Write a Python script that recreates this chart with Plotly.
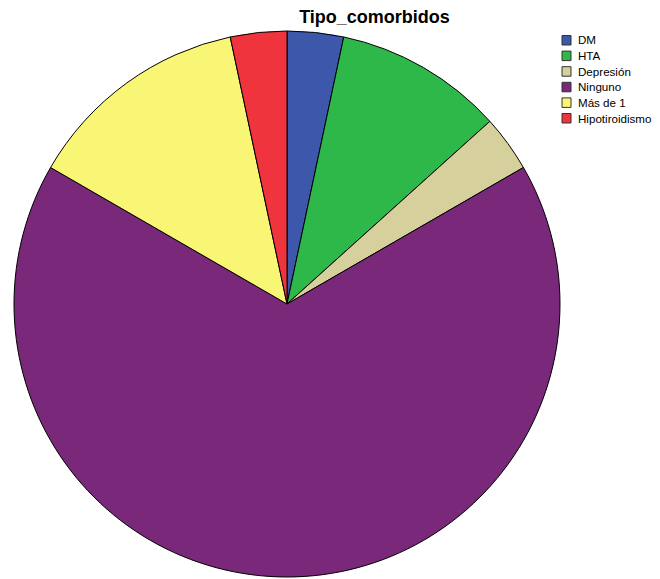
import plotly.graph_objects as go

categories = ["DM", "HTA", "Depresión", "Ninguno", "Más de 1", "Hipotiroidismo"]
values = [1, 3, 1, 20, 4, 1]
colors = ["#3d58aa", "#2fb84a", "#d5d09c", "#7a287a", "#faf675", "#f0343d"]

W, H = 660, 579
cx, cy, r = 287, 304, 273

fig = go.Figure(go.Pie(
    labels=categories, values=values, sort=False, direction="clockwise", rotation=0,
    marker=dict(colors=colors, line=dict(color="black", width=1)),
    textinfo="none", hoverinfo="label+value+percent",
    domain=dict(x=[(cx - r) / W, (cx + r) / W], y=[1 - (cy + r) / H, 1 - (cy - r) / H]),
    showlegend=False,
))

# manual legend
leg_x, leg_y0, leg_dy = 562, 40, 15.6
shapes, annotations = [], []
for i, (lab, col) in enumerate(zip(categories, colors)):
    yc = leg_y0 + i * leg_dy
    shapes.append(dict(type="rect", xref="paper", yref="paper",
                       x0=leg_x / W, x1=(leg_x + 9) / W,
                       y0=1 - (yc + 5) / H, y1=1 - (yc - 4.5) / H,
                       fillcolor=col, line=dict(color="#333333", width=1)))
    annotations.append(dict(text=lab, xref="paper", yref="paper", x=(leg_x + 14) / W, y=1 - yc / H,
                            xanchor="left", yanchor="middle", showarrow=False,
                            font=dict(family="Liberation Sans, Arial", size=11.6, color="black")))

fig.update_layout(
    width=W, height=H, margin=dict(l=0, r=0, t=0, b=0, autoexpand=False),
    paper_bgcolor="white", plot_bgcolor="white",
    title=dict(text="<b>Tipo_comorbidos</b>", x=374.5 / W, xanchor="center", y=1 - 17 / H, yanchor="middle",
               font=dict(family="Liberation Sans, Arial", size=18, color="black")),
    shapes=shapes, annotations=annotations,
    showlegend=False,
)

fig.write_html("out.html")
